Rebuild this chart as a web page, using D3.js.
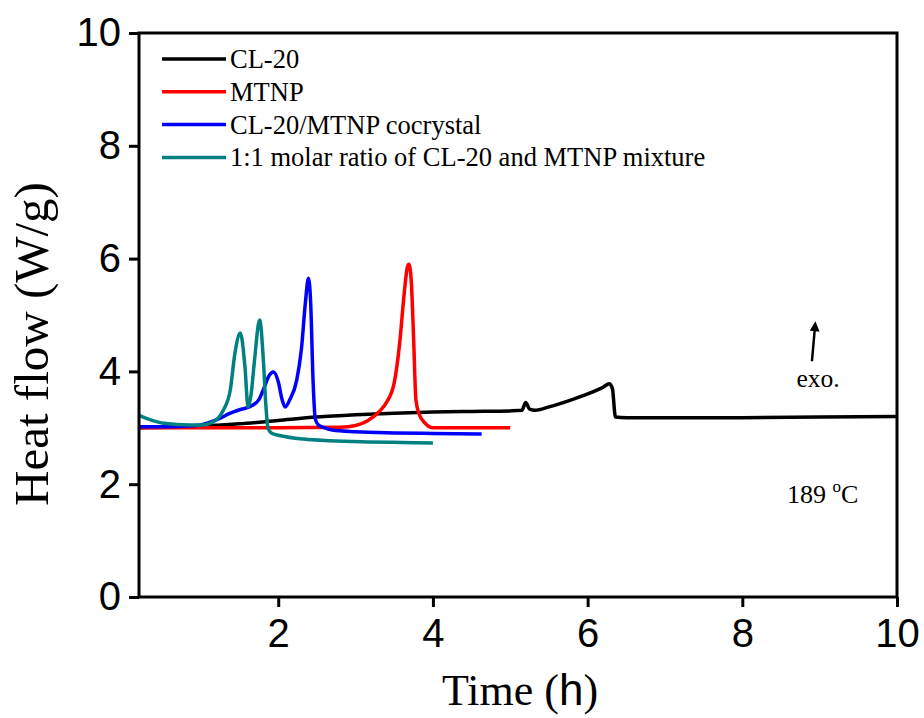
<!DOCTYPE html>
<html>
<head>
<meta charset="utf-8">
<script src="https://cdn.jsdelivr.net/npm/d3@7"></script>
<style>
	body { margin: 0; background: #fff; }
	svg text { fill: #000; }
</style>
</head>
<body>
<div id="chart"></div>
<script>
// time (h) / heat flow (W/g)
const cl20T = [0.2, 0.6, 1.0, 1.5, 2.0, 2.5, 3.0, 3.5, 4.0, 4.5, 5.0, 5.15, 5.2, 5.25, 5.32, 5.5, 5.8, 6.0, 6.2, 6.28, 6.32, 6.36, 6.5, 7, 8, 9, 10];
const cl20Y = [3.0, 3.01, 3.03, 3.07, 3.13, 3.19, 3.23, 3.26, 3.28, 3.29, 3.3, 3.31, 3.45, 3.33, 3.31, 3.37, 3.5, 3.6, 3.72, 3.78, 3.7, 3.19, 3.18, 3.18, 3.18, 3.19, 3.2];

const mtnpT = [0.2, 1.0, 2.0, 2.8, 3.0, 3.15, 3.3, 3.4, 3.5, 3.57, 3.63, 3.67, 3.69, 3.72, 3.75, 3.78, 3.82, 3.9, 4.0, 4.5, 5.0];
const mtnpY = [3.0, 3.0, 3.0, 3.01, 3.04, 3.12, 3.28, 3.45, 3.8, 4.5, 5.4, 5.85, 5.9, 5.6, 4.6, 3.5, 3.25, 3.08, 3.0, 3.0, 3.0];

const cocrT = [0.2, 0.6, 0.95, 1.1, 1.25, 1.38, 1.5, 1.64, 1.75, 1.82, 1.88, 1.94, 2.0, 2.05, 2.09, 2.15, 2.24, 2.3, 2.35, 2.39, 2.42, 2.45, 2.48, 2.52, 2.6, 2.7, 3.0, 3.5, 4.0, 4.63];
const cocrY = [3.02, 3.02, 3.04, 3.09, 3.17, 3.26, 3.32, 3.38, 3.5, 3.72, 3.92, 3.99, 3.82, 3.5, 3.37, 3.5, 3.85, 4.4, 5.2, 5.65, 5.2, 3.85, 3.15, 3.05, 3.0, 2.96, 2.93, 2.91, 2.9, 2.89];

const mixT = [0.2, 0.35, 0.52, 0.86, 1.03, 1.15, 1.21, 1.29, 1.38, 1.44, 1.51, 1.57, 1.61, 1.65, 1.69, 1.76, 1.81, 1.84, 1.87, 1.92, 2.03, 2.33, 2.67, 3.15, 3.6, 4.0];
const mixY = [3.22, 3.14, 3.08, 3.05, 3.05, 3.1, 3.15, 3.31, 3.67, 4.32, 4.68, 4.08, 3.37, 3.6, 4.15, 4.91, 4.15, 3.4, 2.98, 2.9, 2.86, 2.8, 2.77, 2.75, 2.74, 2.73];

const seriesNames = ['CL-20', 'MTNP', 'CL-20/MTNP cocrystal', '1:1 molar ratio of CL-20 and MTNP mixture'];
const seriesColors = ['#000000', '#ff0000', '#0000ff', '#008080'];
const seriesT = [cl20T, mtnpT, cocrT, mixT];
const seriesY = [cl20Y, mtnpY, cocrY, mixY];

const xTicks = [2, 4, 6, 8, 10];
const yTicks = [0, 2, 4, 6, 8, 10];

const width = 924, height = 718;
const margin = { left: 139, right: 897, top: 33, bottom: 597 };

const svg = d3.select('#chart').append('svg')
	.attr('width', width)
	.attr('height', height);

const x = d3.scaleLinear().domain([0.2, 10]).range([margin.left, margin.right]);
const y = d3.scaleLinear().domain([0, 10]).range([margin.bottom, margin.top]);

// curves
const line = d3.line()
	.x(d => x(d[0]))
	.y(d => y(d[1]))
	.curve(d3.curveMonotoneX);

seriesT.forEach((ts, i) => {
	const pts = ts.map((t, j) => [t, seriesY[i][j]]);
	svg.append('path')
		.datum(pts)
		.attr('fill', 'none')
		.attr('stroke', seriesColors[i])
		.attr('stroke-width', 3.5)
		.attr('stroke-linejoin', 'round')
		.attr('d', line);
});

// axes
const xAxis = svg.append('g')
	.attr('transform', `translate(0,${margin.bottom})`)
	.call(d3.axisBottom(x).tickValues(xTicks).tickSize(10).tickPadding(12).tickFormat(d3.format('d')));
const yAxis = svg.append('g')
	.attr('transform', `translate(${margin.left},0)`)
	.call(d3.axisLeft(y).tickValues(yTicks).tickSize(10).tickPadding(8).tickFormat(d3.format('d')));

[xAxis, yAxis].forEach(g => {
	g.select('.domain').remove();
	g.selectAll('.tick line').attr('stroke-width', 3);
	g.selectAll('.tick text')
		.style('font-family', '"Liberation Sans", Arial, sans-serif')
		.style('font-size', '40px');
});

// frame
svg.append('rect')
	.attr('x', margin.left)
	.attr('y', margin.top)
	.attr('width', margin.right - margin.left)
	.attr('height', margin.bottom - margin.top)
	.attr('fill', 'none')
	.attr('stroke', '#000')
	.attr('stroke-width', 3);

// axis titles
const serif = '"Liberation Serif", "Times New Roman", serif';
const xTitle = svg.append('text')
	.attr('x', 520)
	.attr('y', 705)
	.attr('text-anchor', 'middle')
	.style('font-family', serif)
	.style('font-size', '44px');
xTitle.append('tspan').text('Time (');
xTitle.append('tspan').style('font-family', '"Liberation Sans", Arial, sans-serif').text('h');
xTitle.append('tspan').text(')');

svg.append('text')
	.attr('transform', 'translate(48,344) rotate(-90)')
	.attr('text-anchor', 'middle')
	.style('font-family', serif)
	.style('font-size', '49px')
	.text('Heat flow (W/g)');

// legend
const legend = svg.append('g');
seriesNames.forEach((name, i) => {
	const ly = 59 + i * 32.8;
	legend.append('line')
		.attr('x1', 162).attr('x2', 226)
		.attr('y1', ly).attr('y2', ly)
		.attr('stroke', seriesColors[i])
		.attr('stroke-width', 3.5);
	legend.append('text')
		.attr('x', 230)
		.attr('y', ly + 9)
		.style('font-family', serif)
		.style('font-size', '26.5px')
		.text(name);
});

// annotations
const arrowX = [8.9, 8.94];
const arrowY = [4.18, 4.8];
svg.append('defs').append('marker')
	.attr('id', 'head')
	.attr('viewBox', '0 0 10 10')
	.attr('refX', 5).attr('refY', 5)
	.attr('markerWidth', 4.5).attr('markerHeight', 4)
	.attr('orient', 'auto')
	.append('path')
	.attr('d', 'M0,0L10,5L0,10Z')
	.attr('fill', '#000');
svg.append('line')
	.attr('x1', x(arrowX[0])).attr('y1', y(arrowY[0]))
	.attr('x2', x(arrowX[1])).attr('y2', y(arrowY[1]))
	.attr('stroke', '#000')
	.attr('stroke-width', 2.5)
	.attr('marker-end', 'url(#head)');

svg.append('text')
	.attr('x', x(8.98))
	.attr('y', y(3.73))
	.attr('text-anchor', 'middle')
	.style('font-family', serif)
	.style('font-size', '25.5px')
	.text('exo.');

const tempLabel = svg.append('text')
	.attr('x', 787)
	.attr('y', 503)
	.style('font-family', serif)
	.style('font-size', '26px');
tempLabel.append('tspan').text('189 ');
tempLabel.append('tspan').attr('dy', -11).style('font-size', '17px').text('o');
tempLabel.append('tspan').attr('dy', 11).text('C');
</script>
</body>
</html>
